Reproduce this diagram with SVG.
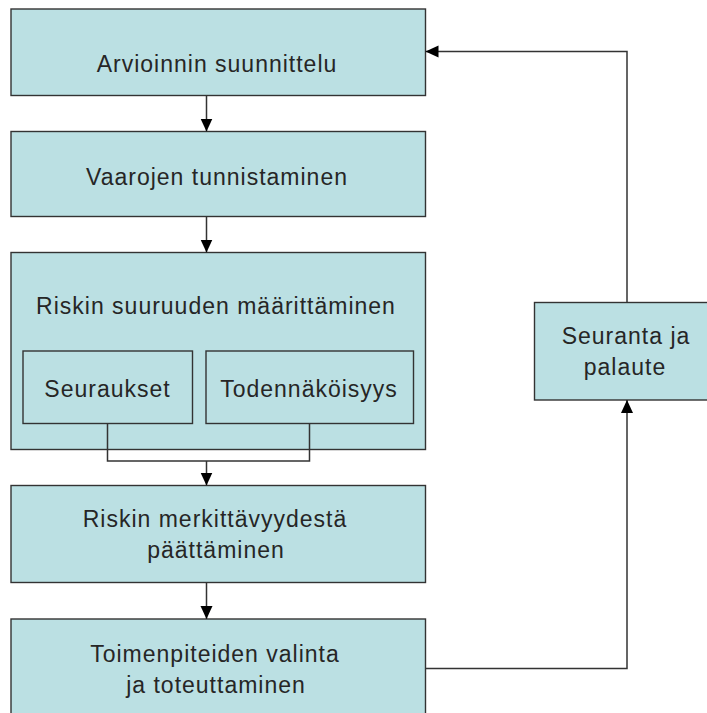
<svg xmlns="http://www.w3.org/2000/svg" width="707" height="713" viewBox="0 0 707 713">
<style>
.box{fill:#BBE0E3;stroke:#333;stroke-width:1.4}
.sub{fill:#BBE0E3;stroke:#333;stroke-width:1.4}
.lbl{font-family:"Liberation Sans",Arial,sans-serif;font-size:23px;letter-spacing:1px;fill:#262626;text-anchor:middle}
.con{fill:none;stroke:#333;stroke-width:1.5}
</style>
<defs>
<marker id="arr" markerUnits="userSpaceOnUse" markerWidth="14" markerHeight="14" refX="13" refY="6.5" orient="auto">
<path d="M0,0.5 L13,6.5 L0,12.5 z" fill="#000"/>
</marker>
</defs>
<rect width="707" height="713" fill="#fff"/>
<g id="n1"><rect class="box" x="11" y="9" width="414.5" height="86.5"/><text class="lbl" x="217" y="71.5">Arvioinnin suunnittelu</text></g>
<g id="n2"><rect class="box" x="11" y="131.5" width="414.5" height="85"/><text class="lbl" x="217" y="184.5">Vaarojen tunnistaminen</text></g>
<g id="n3"><rect class="box" x="11" y="252.5" width="414.5" height="197"/><text class="lbl" x="216" y="314">Riskin suuruuden määrittäminen</text></g>
<g id="n3a"><rect class="sub" x="23" y="351" width="169.5" height="72.5"/><text class="lbl" x="107.5" y="396.5">Seuraukset</text></g>
<g id="n3b"><rect class="sub" x="206" y="351" width="207.5" height="72.5"/><text class="lbl" x="309" y="396.5">Todennäköisyys</text></g>
<g id="n4"><rect class="box" x="11" y="485.5" width="414.5" height="97"/><text class="lbl" x="215" y="526.5">Riskin merkittävyydestä</text><text class="lbl" x="216" y="558">päättäminen</text></g>
<g id="n5"><rect class="box" x="11" y="619" width="414.5" height="110"/><text class="lbl" x="215" y="661.5">Toimenpiteiden valinta</text><text class="lbl" x="216" y="692.5">ja toteuttaminen</text></g>
<g id="n6"><rect class="box" x="534.5" y="302.5" width="185" height="97.5"/><text class="lbl" x="626" y="343.5">Seuranta ja</text><text class="lbl" x="625" y="375">palaute</text></g>
<g id="connectors">
<path class="con" d="M206.5,95.5 V131.5" marker-end="url(#arr)"/>
<path class="con" d="M206.5,216.5 V252.5" marker-end="url(#arr)"/>
<path class="con" d="M107.5,423.5 V461 H309.5 V423.5"/>
<path class="con" d="M206.5,461 V485.5" marker-end="url(#arr)"/>
<path class="con" d="M206.5,582.5 V619" marker-end="url(#arr)"/>
<path class="con" d="M425.5,668.5 H627 V400" marker-end="url(#arr)"/>
<path class="con" d="M627,302.5 V51.5 H425.5" marker-end="url(#arr)"/>
</g>
</svg>
